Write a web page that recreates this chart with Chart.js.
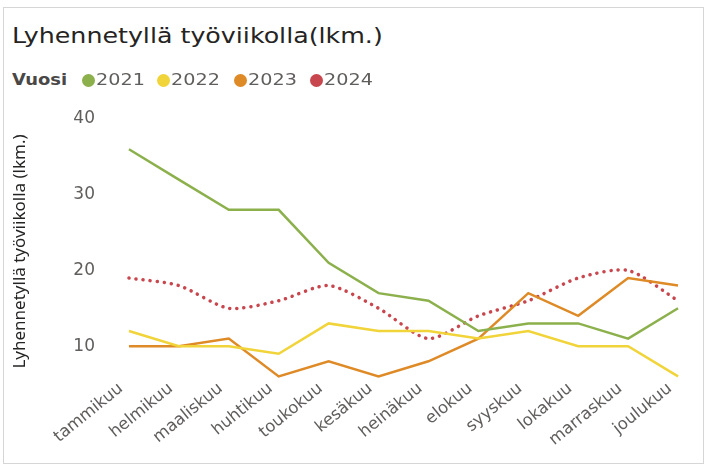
<!DOCTYPE html>
<html>
<head>
<meta charset="utf-8">
<script src="https://cdn.jsdelivr.net/npm/chart.js@4"></script>
<style>
  html, body { margin: 0; padding: 0; background: #fff; }
  body { width: 705px; height: 465px; position: relative; overflow: hidden; font-family: 'DejaVu Sans', sans-serif; }
  #frame { position: absolute; left: 3px; top: 7px; width: 699px; height: 455px; border: 1px solid #d6d6d6; }
  .txt { position: absolute; white-space: nowrap; transform-origin: 0 50%; }
  #title { left: 12px; top: 21px; font-size: 22px; line-height: 30px; color: #252423; transform: scaleX(1.15); }
  .leg { top: 70px; font-size: 16px; line-height: 20px; color: #605e5c; transform: scaleX(1.2); }
  #vuosi { left: 12px; font-weight: bold; color: #4a4846; transform: scaleX(1.12); }
  .dot { position: absolute; top: 74px; width: 13px; height: 13px; border-radius: 50%; }
  #chart { position: absolute; left: 0; top: 0; }
</style>
</head>
<body>
<div id="frame"></div>
<div id="title" class="txt">Lyhennetyllä työviikolla(lkm.)</div>
<div id="vuosi" class="txt leg">Vuosi</div>
<canvas id="chart" width="705" height="465"></canvas>
<script>
const months = ['tammikuu', 'helmikuu', 'maaliskuu', 'huhtikuu', 'toukokuu', 'kesäkuu',
  'heinäkuu', 'elokuu', 'syyskuu', 'lokakuu', 'marraskuu', 'joulukuu'];
const years = ['2021', '2022', '2023', '2024'];
const values2021 = [36, 32, 28, 28, 21, 17, 16, 12, 13, 13, 11, 15];
const values2022 = [12, 10, 10, 9, 13, 12, 12, 11, 12, 10, 10, 6];
const values2023 = [10, 10, 11, 6, 8, 6, 8, 11, 17, 14, 19, 18];
const values2024 = [19, 18, 15, 16, 18, 15, 11, 14, 16, 19, 20, 16];
const yTicks = [10, 20, 30, 40];

const colors = ['#8bb04c', '#f0d43a', '#de8a26', '#c8464d'];
const seriesValues = [values2021, values2022, values2023, values2024];

// legend entries: dot + year text
const legendDotX = [82, 157, 234, 310];
years.forEach((year, i) => {
  const dot = document.createElement('span');
  dot.className = 'dot';
  dot.style.left = legendDotX[i] + 'px';
  dot.style.background = colors[i];
  document.body.appendChild(dot);
  const label = document.createElement('div');
  label.className = 'txt leg';
  label.style.left = (legendDotX[i] + 14) + 'px';
  label.textContent = year;
  document.body.appendChild(label);
});

const datasets = years.map((year, i) => {
  const dotted = i === 3;
  return {
    label: year,
    data: seriesValues[i],
    borderColor: colors[i],
    borderWidth: dotted ? 3.5 : 2.5,
    borderDash: dotted ? [0.1, 7] : [],
    borderCapStyle: dotted ? 'round' : 'butt',
    tension: dotted ? 0.25 : 0,
    pointRadius: 0,
    fill: false,
  };
});

const ctx = document.getElementById('chart').getContext('2d');
new Chart(ctx, {
  type: 'line',
  data: { labels: months, datasets },
  options: {
    responsive: false,
    animation: false,
    layout: { padding: { top: 119, right: 2, left: 0, bottom: 0 } },
    plugins: { legend: { display: false }, tooltip: { enabled: false } },
    scales: {
      x: {
        offset: true,
        afterFit: (scale) => { scale.height = 81; },
        grid: { display: false, drawTicks: false },
        border: { display: false },
        ticks: {
          color: '#605e5c',
          font: { family: 'DejaVu Sans', size: 16.5 },
          minRotation: 39,
          maxRotation: 39,
          padding: -5,
          labelOffset: -8,
          autoSkip: false,
        },
      },
      y: {
        min: 5,
        max: 40,
        afterFit: (scale) => { scale.width = 104; },
        afterBuildTicks: (scale) => { scale.ticks = yTicks.map((v) => ({ value: v })); },
        grid: { display: false, drawTicks: false },
        border: { display: false },
        title: {
          display: true,
          text: 'Lyhennetyllä työviikolla (lkm.)',
          color: '#252423',
          font: { family: 'Noto Sans', size: 17 },
          padding: { top: 10, bottom: 0 },
        },
        ticks: {
          color: '#605e5c',
          font: { family: 'DejaVu Sans', size: 17 },
          padding: 9,
        },
      },
    },
  },
});
</script>
</body>
</html>
